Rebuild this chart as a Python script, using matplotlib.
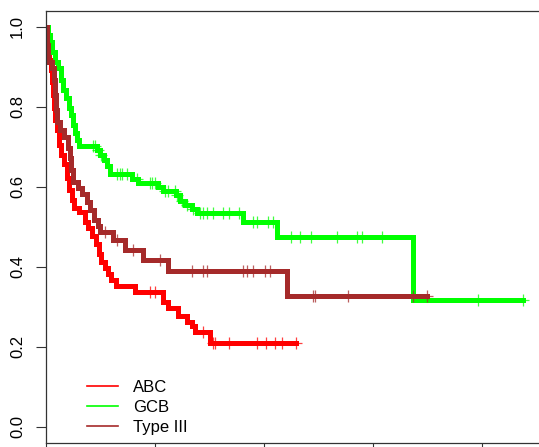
import numpy as np
import matplotlib
matplotlib.use("Agg")
import matplotlib.pyplot as plt

plt.rcParams['font.family'] = ['Liberation Sans', 'DejaVu Sans']

# Kaplan-Meier estimates: event times and survival after each step
abc_t = [0.05, 0.09, 0.14, 0.23, 0.28, 0.32, 0.37, 0.41, 0.51, 0.60, 0.69, 0.83, 0.96,
         1.06, 1.19, 1.28, 1.51, 1.79, 1.93, 2.11, 2.29, 2.43, 2.52, 2.71, 2.84, 2.98,
         3.21, 4.08, 5.37, 5.60, 6.06, 6.47, 6.70, 6.84, 7.52]
abc_s = [0.968, 0.943, 0.918, 0.893, 0.863, 0.831, 0.798, 0.768, 0.743, 0.706, 0.681,
         0.656, 0.623, 0.593, 0.568, 0.548, 0.536, 0.513, 0.498, 0.478, 0.456, 0.431,
         0.413, 0.398, 0.381, 0.366, 0.351, 0.336, 0.311, 0.296, 0.276, 0.261, 0.251,
         0.236, 0.209]
abc_cens = [4.77, 5.00, 7.20, 7.66, 7.75, 8.39, 9.68, 10.09, 10.50, 10.83, 11.46]
abc_end = 11.46

gcb_t = [0.09, 0.18, 0.28, 0.41, 0.55, 0.69, 0.78, 0.92, 1.06, 1.15, 1.24, 1.33, 1.42,
         1.51, 2.34, 2.48, 2.66, 2.80, 2.94, 3.95, 4.22, 5.14, 5.37, 5.96, 6.15, 6.38,
         6.70, 6.93, 9.04, 10.60, 16.84]
gcb_s = [0.980, 0.963, 0.938, 0.913, 0.898, 0.868, 0.843, 0.823, 0.798, 0.781, 0.756,
         0.736, 0.718, 0.703, 0.693, 0.681, 0.668, 0.651, 0.631, 0.620, 0.610, 0.600,
         0.590, 0.580, 0.565, 0.555, 0.545, 0.534, 0.511, 0.474, 0.316]
gcb_cens = [2.16, 2.25, 2.39, 2.52, 3.26, 3.39, 3.49, 3.72, 4.17, 4.77, 4.86, 5.00, 5.46,
            5.60, 5.92, 6.01, 6.24, 6.47, 6.74, 7.06, 7.20, 7.39, 7.66, 8.12, 8.39, 8.85,
            9.50, 9.68, 10.18, 10.41, 11.24, 11.65, 12.16, 13.35, 14.27, 14.50, 15.41,
            19.82, 21.85]
gcb_end = 21.85

t3_t = [0.05, 0.09, 0.28, 0.37, 0.41, 0.46, 0.51, 0.64, 0.83, 1.01, 1.10, 1.15, 1.24,
        1.47, 1.65, 1.88, 2.02, 2.20, 2.39, 2.48, 3.07, 3.62, 4.45, 5.60, 11.06]
t3_s = [0.956, 0.913, 0.898, 0.868, 0.831, 0.793, 0.763, 0.743, 0.726, 0.698, 0.673,
        0.643, 0.613, 0.598, 0.583, 0.563, 0.543, 0.518, 0.501, 0.486, 0.468, 0.443,
        0.418, 0.389, 0.3265]
t3_cens = [2.71, 3.26, 3.99, 5.23, 6.70, 7.20, 7.39, 9.04, 9.22, 9.50, 10.05, 10.28,
           12.25, 12.34, 13.85, 16.83, 17.45]
t3_end = 17.45

groups = ['ABC', 'GCB', 'Type III']
colors = ['#ff0000', '#00ff00', '#a52a2a']


def surv_at(times, surv, x):
    tt = np.r_[0.0, times]
    ss = np.r_[1.0, surv]
    return ss[np.searchsorted(tt, x, side='right') - 1]


fig = plt.figure(figsize=(5.39, 4.47), dpi=100)
ax = fig.add_axes([46 / 539, 4.3 / 447, 495.8 / 539, 431.7 / 447])

curves = [(abc_t, abc_s, abc_cens, abc_end),
          (gcb_t, gcb_s, gcb_cens, gcb_end),
          (t3_t, t3_s, t3_cens, t3_end)]

for (t, s, cens, end), col in zip(curves, colors):
    xs = np.r_[0.0, t, end]
    ys = np.r_[1.0, s, s[-1]]
    ax.step(xs, ys, where='post', color=col, lw=3.6, solid_joinstyle='miter')
    cy = surv_at(t, s, np.array(cens))
    ax.plot(cens, cy, ls='none', marker='+', ms=8, mew=0.9, color=col, alpha=0.75)

tmax = max(abc_end, gcb_end, t3_end)
ax.set_xlim(0, tmax * 1.04)
ax.set_ylim(-0.04, 1.04)
ax.set_xticks([0, 5, 10, 15, 20])
ax.set_yticks([0.0, 0.2, 0.4, 0.6, 0.8, 1.0])
ax.set_yticklabels(['0.0', '0.2', '0.4', '0.6', '0.8', '1.0'], rotation=90, va='center')
ax.tick_params(length=7, width=0.8, color='#333333', labelsize=12, pad=8)
# time labels sit below the saved area
ax.tick_params(axis='x', labelbottom=False)
for sp in ax.spines.values():
    sp.set_linewidth(0.9)
    sp.set_color('#333333')

handles = [plt.Line2D([], [], color=c, lw=1.2) for c in colors]
ax.legend(handles, groups, loc='lower left', bbox_to_anchor=(0.065, -0.002),
          frameon=False, fontsize=12, handlelength=1.9, handletextpad=0.9,
          labelspacing=0.32, borderpad=0)

fig.savefig('out.png', dpi=100)
